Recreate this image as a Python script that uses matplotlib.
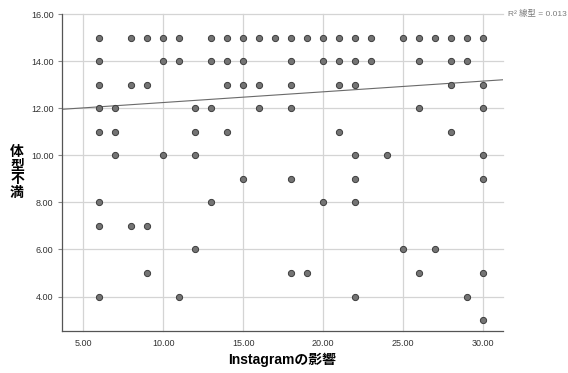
import matplotlib
matplotlib.use("Agg")
import matplotlib.pyplot as plt
import numpy as np

plt.rcParams["font.family"] = ["Liberation Sans", "Noto Sans CJK JP", "DejaVu Sans"]

# points, grouped by y value (体型不満)
row_values = [15, 14, 13, 12, 11, 10, 9, 8, 7, 6, 5, 4, 3]
row_x = [
    [6, 8, 9, 10, 11, 13, 14, 15, 16, 17, 18, 19, 20, 21, 22, 23, 25, 26, 27, 28, 29, 30],
    [6, 10, 11, 13, 14, 15, 18, 20, 21, 22, 23, 26, 28, 29],
    [6, 8, 9, 14, 15, 16, 18, 21, 22, 28, 30],
    [6, 7, 12, 13, 16, 18, 26, 30],
    [6, 7, 12, 14, 21, 28],
    [7, 10, 12, 22, 24, 30],
    [15, 18, 22, 30],
    [6, 13, 20, 22],
    [6, 8, 9],
    [12, 25, 27],
    [9, 18, 19, 26, 30],
    [6, 11, 22, 29],
    [30],
]

# linear fit shown in the chart
fit_intercept = 11.79
fit_slope = 0.0455
r2_label = "R² 線型 = 0.013"

x_ticks = [5, 10, 15, 20, 25, 30]
y_ticks = [4, 6, 8, 10, 12, 14, 16]

xs = []
ys = []
for yv, xrow in zip(row_values, row_x):
    xs.extend(xrow)
    ys.extend([yv] * len(xrow))

fig = plt.figure(figsize=(5.68, 3.73), dpi=100)
ax = fig.add_axes([0.109, 0.113, 0.777, 0.849])

x_min, x_max = 3.65, 31.27
ax.set_xlim(x_min, x_max)
ax.set_ylim(2.54, 16.0)

ax.grid(True, color="#d4d4d4", linewidth=0.9, clip_on=False)
ax.set_axisbelow(True)

ax.scatter(xs, ys, s=20, facecolor="#747474", edgecolor="#3c3c3c",
           linewidth=0.7, zorder=3, clip_on=False)

fx = np.array([x_min, x_max])
ax.plot(fx, fit_intercept + fit_slope * fx, color="#6a6a6a", linewidth=0.8, zorder=2)

ax.text(x_max + 0.3, 16, r2_label, fontsize=6, color="#7a7a7a",
        va="center", ha="left", clip_on=False)

ax.set_xticks(x_ticks)
ax.set_xticklabels([f"{v:.2f}" for v in x_ticks])
ax.set_yticks(y_ticks)
ax.set_yticklabels([f"{v:.2f}" for v in y_ticks])
ax.tick_params(length=3, width=0.8, color="#888888", labelsize=6.5,
               labelcolor="#333333", pad=3)
ax.tick_params(axis="x", length=0, pad=6)

for side in ["top", "right"]:
    ax.spines[side].set_visible(False)
for side in ["left", "bottom"]:
    ax.spines[side].set_color("#555555")
    ax.spines[side].set_linewidth(0.9)

ax.set_xlabel("Instagramの影響", fontsize=10, fontweight="bold", labelpad=3)
ax.set_ylabel("\n".join("体型不満"), fontsize=10, fontweight="bold",
              rotation=0, va="center", labelpad=10, linespacing=0.95)

fig.savefig("out.png", dpi=100)
